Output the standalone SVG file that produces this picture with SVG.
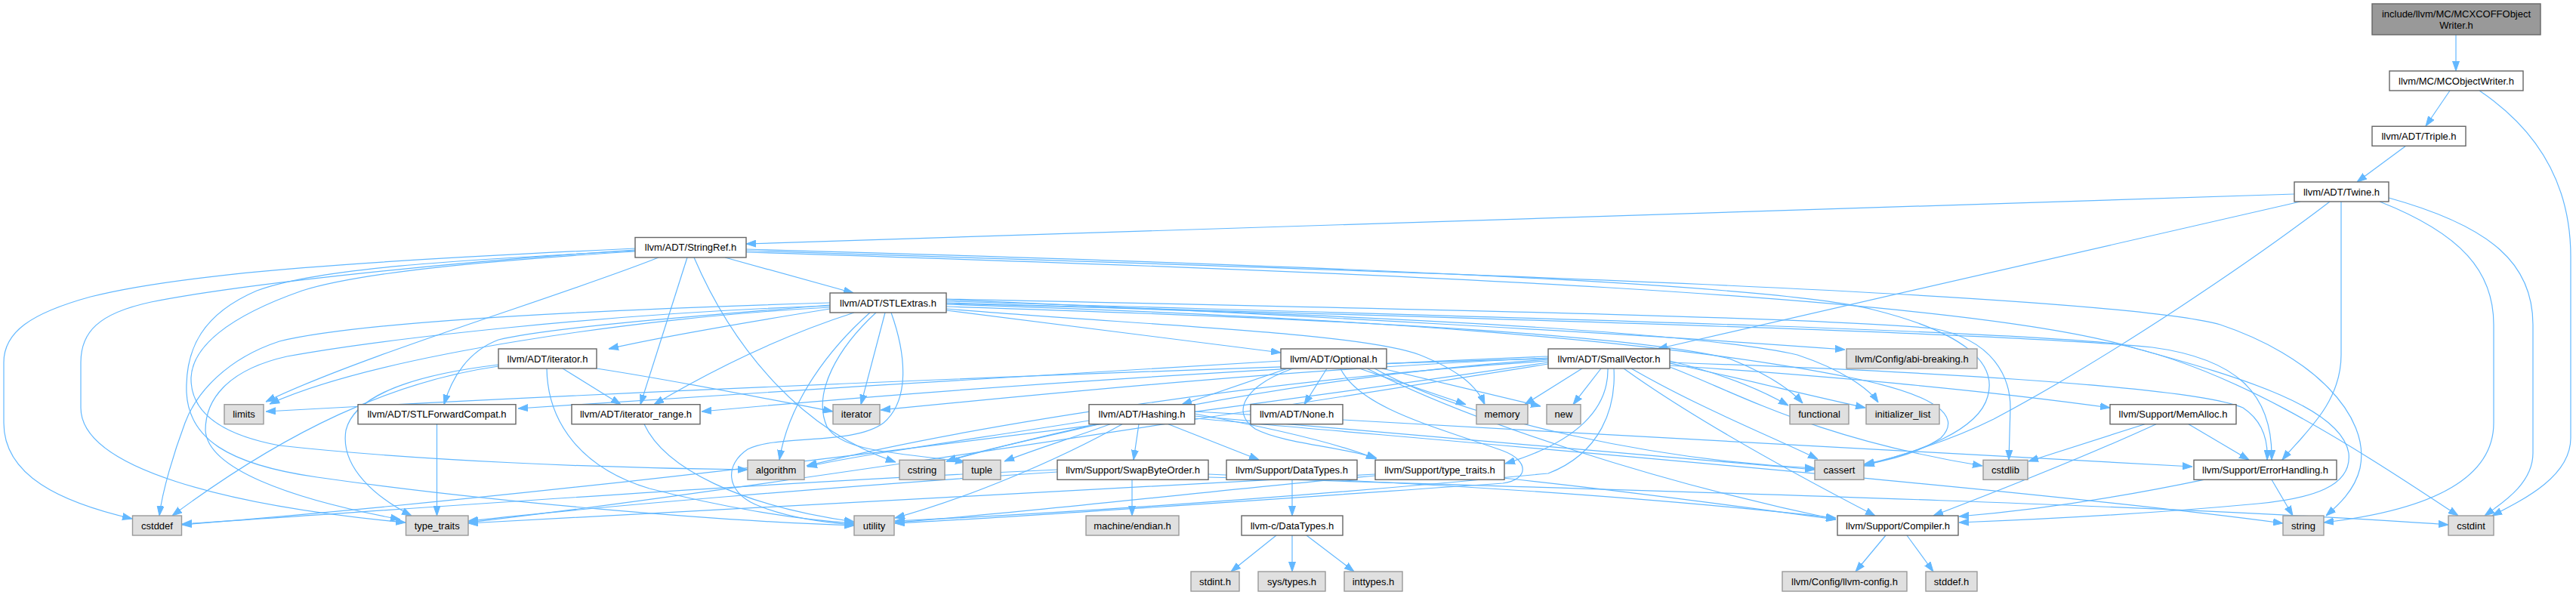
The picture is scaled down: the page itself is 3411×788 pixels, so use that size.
<svg xmlns="http://www.w3.org/2000/svg" width="3411" height="788" viewBox="0 0 3411 788">
<style>
.e{fill:none;stroke:#63b8ff;stroke-width:1.2;marker-end:url(#ah)}
.w{fill:#ffffff;stroke:#666666;stroke-width:1.4}
.g{fill:#e0e0e0;stroke:#999999;stroke-width:1.4}
.d{fill:#999999;stroke:#666666;stroke-width:1.4}
text{font-family:"Liberation Sans",Arial,sans-serif;font-size:13px;fill:#000000;text-anchor:middle}
</style>
<defs>
<marker id="ah" viewBox="0 0 13 10" refX="13" refY="5" markerWidth="13" markerHeight="10" orient="auto" markerUnits="userSpaceOnUse"><path d="M0,0.5 L13,5 L0,9.5 z" fill="#63b8ff" stroke="#63b8ff" stroke-width="1"/></marker>
</defs>
<rect x="0" y="0" width="3411" height="788" fill="#ffffff"/>
<g id="edges">
<path class="e" d="M3252,46 L3252,94"/>
<path class="e" d="M3244,120 L3212,167"/>
<path class="e" d="M3283,120 C3365,175 3404,250 3404,340 L3404,580 C3404,630 3345,660 3300,683"/>
<path class="e" d="M3186,193 L3121,241"/>
<path class="e" d="M3038,257 L988,323"/>
<path class="e" d="M3046,267 L2195,462"/>
<path class="e" d="M3100,267 L3100,470 C3100,535 3050,575 3022,609"/>
<path class="e" d="M3085,267 C2990,340 2800,470 2640,555 C2580,585 2510,605 2468,617"/>
<path class="e" d="M3151,267 C3260,310 3302,360 3302,430 L3302,560 C3302,650 3180,680 3077,692"/>
<path class="e" d="M3163,262 C3300,300 3354,350 3354,430 L3354,600 C3354,640 3315,665 3290,683"/>
<path class="e" d="M960,341 L1130,388"/>
<path class="e" d="M910,341 L848,535.7"/>
<path class="e" d="M872,341 C750,390 480,470 352,532"/>
<path class="e" d="M919,341 C970,460 1060,570 1186,612"/>
<path class="e" d="M841,329 C500,345 250,360 120,393 C40,415 5,440 5,480 L5,560 C5,630 80,665 175,687"/>
<path class="e" d="M841,331 C550,350 300,380 200,400 C130,415 107,440 107,480 L107,540 C107,620 300,670 537,692"/>
<path class="e" d="M841,332 C600,345 420,355 340,385 C270,415 245,460 247,520 C250,580 300,615 420,632 C650,665 950,690 1131,696"/>
<path class="e" d="M841,333 C650,345 480,360 400,385 C300,420 255,460 253,500 C252,545 290,575 370,590 C550,610 800,620 990,622"/>
<path class="e" d="M988,330 C1700,350 2350,375 2480,410 C2600,440 2645,480 2632,525 C2620,570 2540,600 2468,615"/>
<path class="e" d="M988,332 C1900,360 2800,390 2940,430 C3060,470 3140,550 3125,620 C3118,650 3095,670 3080,683"/>
<path class="e" d="M988,334 C1800,360 2600,390 2830,462 C2970,500 3100,540 3110,600 C3115,645 3060,660 2990,667 C2850,680 2700,688 2594,692"/>
<path class="e" d="M1253,411 L1696,467"/>
<path class="e" d="M1099,404 C900,420 720,435 660,450 C620,465 598,500 588,535.7"/>
<path class="e" d="M1099,409 C1000,425 880,445 806,462"/>
<path class="e" d="M1131,414 C1050,440 960,480 866,535.7"/>
<path class="e" d="M1253,397 C1700,415 2200,445 2443,463"/>
<path class="e" d="M1253,401 C1900,420 2650,440 2850,460 C2960,475 3010,520 3008,609"/>
<path class="e" d="M1152,414 C1100,460 1045,530 1032,609"/>
<path class="e" d="M1253,403 C1800,420 2200,450 2450,500 C2560,522 2600,550 2570,580 C2540,600 2500,610 2469,615"/>
<path class="e" d="M1099,401 C800,410 480,425 370,452 C300,475 260,520 245,560 C230,600 215,650 211,683"/>
<path class="e" d="M1253,399 C1900,418 2600,435 2800,455 C2950,485 3100,580 3255,683"/>
<path class="e" d="M1253,396 C1900,410 2400,420 2560,435 C2640,450 2662,500 2662,540 L2660,609"/>
<path class="e" d="M1253,406 C1700,420 2150,440 2290,475 C2340,495 2370,515 2387,534"/>
<path class="e" d="M1253,402 C1800,415 2250,440 2380,470 C2440,490 2475,515 2487,533"/>
<path class="e" d="M1172,414 L1140,535.7"/>
<path class="e" d="M1099,407 C850,420 500,470 357,535"/>
<path class="e" d="M1253,409 C1500,430 1800,440 1880,470 C1930,490 1955,510 1966,535.7"/>
<path class="e" d="M1160,414 C1110,460 1075,520 1095,565 C1115,600 1200,600 1278,612"/>
<path class="e" d="M1099,405 C800,415 500,450 380,472 C300,490 272,530 272,570 C275,620 380,660 530,688"/>
<path class="e" d="M1180,414 C1200,470 1205,530 1170,560 C1130,590 1030,575 990,595 C960,615 960,650 1000,668 C1040,685 1090,692 1131,695"/>
<path class="e" d="M1705,488 L1565,535.7"/>
<path class="e" d="M1757,488 L1727,535.7"/>
<path class="e" d="M1696,478 C1400,495 1000,520 686,541"/>
<path class="e" d="M1810,488 C1950,560 2200,640 2431,688"/>
<path class="e" d="M1712,488 C1650,510 1628,545 1662,568 C1700,588 1780,592 1823,607"/>
<path class="e" d="M1820,488 C1950,560 2200,610 2403,620"/>
<path class="e" d="M1800,488 L1941,535.7"/>
<path class="e" d="M1830,488 L2040,538"/>
<path class="e" d="M1775,488 C1800,540 1900,565 1990,597 C2025,610 2025,635 1990,640 C1700,660 1350,685 1185,693"/>
<path class="e" d="M2050,472 C1600,490 1200,520 929,545"/>
<path class="e" d="M2150,488 C2250,560 2400,640 2483,683"/>
<path class="e" d="M2211,480 C2500,490 2900,510 2970,540 C3000,560 3003,590 3002,609"/>
<path class="e" d="M2211,484 C2450,500 2650,520 2794,540"/>
<path class="e" d="M2129,488 C2130,540 2090,585 1993,614"/>
<path class="e" d="M2050,478 C1700,500 1300,560 1068,617"/>
<path class="e" d="M2160,488 C2250,540 2350,580 2407,608"/>
<path class="e" d="M2050,480 C1500,560 800,650 241,695"/>
<path class="e" d="M2211,486 C2300,520 2400,580 2625,617"/>
<path class="e" d="M2050,476 C1700,500 1400,570 1253,611"/>
<path class="e" d="M2211,478 C2280,495 2330,515 2368,537"/>
<path class="e" d="M2211,481 C2300,500 2400,525 2470,540"/>
<path class="e" d="M2050,474 C1700,490 1400,520 1166,543"/>
<path class="e" d="M2050,475 C1500,490 800,520 352,545"/>
<path class="e" d="M2095,488 L2019,535.7"/>
<path class="e" d="M2120,488 L2083,535.7"/>
<path class="e" d="M2050,482 C1500,570 900,660 620,692"/>
<path class="e" d="M2137,488 C2140,540 2120,600 2050,627 C1700,660 1400,680 1185,690"/>
<path class="e" d="M1547,561.7 L1667,609"/>
<path class="e" d="M1582,545 C2000,570 2600,600 2903,618"/>
<path class="e" d="M1508,561.7 L1501,609"/>
<path class="e" d="M1582,548 C1700,570 1780,590 1822,608"/>
<path class="e" d="M1442,557 C1300,580 1150,600 1069,618"/>
<path class="e" d="M1582,551 C1900,580 2200,605 2403,622"/>
<path class="e" d="M1455,561.7 C1380,580 1300,595 1253,611"/>
<path class="e" d="M1582,554 C2100,600 2700,650 3023,693"/>
<path class="e" d="M1470,561.7 C1420,580 1370,595 1330,611"/>
<path class="e" d="M1486,561.7 C1400,610 1280,660 1185,686"/>
<path class="e" d="M1600,628 C1900,640 2200,660 2431,686"/>
<path class="e" d="M1400,622 C1000,640 600,670 241,694"/>
<path class="e" d="M1600,632 C2200,650 2900,670 3242,695"/>
<path class="e" d="M1400,625 C1100,645 800,670 620,690"/>
<path class="e" d="M1499,635.3 L1499,683"/>
<path class="e" d="M1711,635.3 L1711,683"/>
<path class="e" d="M1690,709 L1630,757"/>
<path class="e" d="M1711,709 L1711,757"/>
<path class="e" d="M1730,709 L1793,757"/>
<path class="e" d="M1990,633 C2150,650 2300,670 2431,688"/>
<path class="e" d="M1821,628 C1400,650 900,680 620,693"/>
<path class="e" d="M1821,630 C1600,650 1350,680 1185,692"/>
<path class="e" d="M2855,561.7 C2750,610 2620,660 2560,683"/>
<path class="e" d="M2898,561.7 L2978,609"/>
<path class="e" d="M2840,561.7 L2686,611"/>
<path class="e" d="M2918,635.3 C2800,660 2700,675 2594,684"/>
<path class="e" d="M3008,635.3 L3036,683"/>
<path class="e" d="M2497,709 L2457,757"/>
<path class="e" d="M2525,709 L2560,757"/>
<path class="e" d="M745,488 L822,535.7"/>
<path class="e" d="M660,485 C520,505 380,570 228,683"/>
<path class="e" d="M790,488 C900,505 1000,525 1103,545"/>
<path class="e" d="M660,483 C560,495 470,520 458,570 C450,620 500,660 545,683"/>
<path class="e" d="M724,488 C725,560 770,620 860,647 C950,670 1050,688 1131,693"/>
<path class="e" d="M853,561.7 C880,620 980,670 1131,691"/>
<path class="e" d="M578.5,561.7 L578.5,683"/>
</g>
<g id="n_top"><rect class="d" x="3141" y="5" width="223" height="41"/><text x="3252.5" y="22.5">include/llvm/MC/MCXCOFFObject</text><text x="3252.5" y="37.5">Writer.h</text></g>
<g id="n_mcow"><rect class="w" x="3164" y="94" width="177" height="26"/><text x="3252.5" y="111.7">llvm/MC/MCObjectWriter.h</text></g>
<g id="n_triple"><rect class="w" x="3141" y="167.3" width="124" height="26"/><text x="3203" y="185">llvm/ADT/Triple.h</text></g>
<g id="n_twine"><rect class="w" x="3038" y="241" width="125" height="26"/><text x="3100.5" y="258.7">llvm/ADT/Twine.h</text></g>
<g id="n_stringref"><rect class="w" x="841" y="314.5" width="147" height="26.5"/><text x="914.5" y="332.4">llvm/ADT/StringRef.h</text></g>
<g id="n_stlextras"><rect class="w" x="1099" y="388" width="154" height="26"/><text x="1176" y="405.7">llvm/ADT/STLExtras.h</text></g>
<g id="n_iteratorh"><rect class="w" x="660" y="462" width="130" height="26"/><text x="725" y="479.7">llvm/ADT/iterator.h</text></g>
<g id="n_optional"><rect class="w" x="1696" y="462" width="140" height="26"/><text x="1766" y="479.7">llvm/ADT/Optional.h</text></g>
<g id="n_smallvector"><rect class="w" x="2050" y="462" width="161" height="26"/><text x="2130.5" y="479.7">llvm/ADT/SmallVector.h</text></g>
<g id="n_abi"><rect class="g" x="2445" y="462" width="173" height="26"/><text x="2531.5" y="479.7">llvm/Config/abi-breaking.h</text></g>
<g id="n_limits"><rect class="g" x="297" y="535.7" width="52" height="26"/><text x="323" y="553.4">limits</text></g>
<g id="n_stlfc"><rect class="w" x="474" y="535.7" width="209" height="26"/><text x="578.5" y="553.4">llvm/ADT/STLForwardCompat.h</text></g>
<g id="n_itrange"><rect class="w" x="757" y="535.7" width="170" height="26"/><text x="842" y="553.4">llvm/ADT/iterator_range.h</text></g>
<g id="n_iterator"><rect class="g" x="1103" y="535.7" width="62" height="26"/><text x="1134" y="553.4">iterator</text></g>
<g id="n_hashing"><rect class="w" x="1442" y="535.7" width="140" height="26"/><text x="1512" y="553.4">llvm/ADT/Hashing.h</text></g>
<g id="n_none"><rect class="w" x="1656" y="535.7" width="122" height="26"/><text x="1717" y="553.4">llvm/ADT/None.h</text></g>
<g id="n_memory"><rect class="g" x="1955" y="535.7" width="68" height="26"/><text x="1989" y="553.4">memory</text></g>
<g id="n_new"><rect class="g" x="2048" y="535.7" width="45" height="26"/><text x="2070.5" y="553.4">new</text></g>
<g id="n_functional"><rect class="g" x="2370" y="535.7" width="78" height="26"/><text x="2409" y="553.4">functional</text></g>
<g id="n_initlist"><rect class="g" x="2471" y="535.7" width="97" height="26"/><text x="2519.5" y="553.4">initializer_list</text></g>
<g id="n_memalloc"><rect class="w" x="2794" y="535.7" width="167" height="26"/><text x="2877.5" y="553.4">llvm/Support/MemAlloc.h</text></g>
<g id="n_algorithm"><rect class="g" x="990" y="609.3" width="75" height="26"/><text x="1027.5" y="627">algorithm</text></g>
<g id="n_cstring"><rect class="g" x="1191" y="609.3" width="60" height="26"/><text x="1221" y="627">cstring</text></g>
<g id="n_tuple"><rect class="g" x="1275" y="609.3" width="50" height="26"/><text x="1300" y="627">tuple</text></g>
<g id="n_swap"><rect class="w" x="1400" y="609.3" width="200" height="26"/><text x="1500" y="627">llvm/Support/SwapByteOrder.h</text></g>
<g id="n_sdatatypes"><rect class="w" x="1624" y="609.3" width="173" height="26"/><text x="1710.5" y="627">llvm/Support/DataTypes.h</text></g>
<g id="n_stypetraits"><rect class="w" x="1821" y="609.3" width="171" height="26"/><text x="1906.5" y="627">llvm/Support/type_traits.h</text></g>
<g id="n_cassert"><rect class="g" x="2403" y="609.3" width="65" height="26"/><text x="2435.5" y="627">cassert</text></g>
<g id="n_cstdlib"><rect class="g" x="2626" y="609.3" width="59" height="26"/><text x="2655.5" y="627">cstdlib</text></g>
<g id="n_errh"><rect class="w" x="2905" y="609.3" width="189" height="26"/><text x="2999.5" y="627">llvm/Support/ErrorHandling.h</text></g>
<g id="n_cstddef"><rect class="g" x="175.5" y="683" width="65" height="26"/><text x="208" y="700.7">cstddef</text></g>
<g id="n_typetraits"><rect class="g" x="537.5" y="683" width="82.5" height="26"/><text x="578.7" y="700.7">type_traits</text></g>
<g id="n_utility"><rect class="g" x="1131" y="683" width="53" height="26"/><text x="1157.5" y="700.7">utility</text></g>
<g id="n_endian"><rect class="g" x="1438" y="683" width="123" height="26"/><text x="1499.5" y="700.7">machine/endian.h</text></g>
<g id="n_cdatatypes"><rect class="w" x="1644" y="683" width="134" height="26"/><text x="1711" y="700.7">llvm-c/DataTypes.h</text></g>
<g id="n_compiler"><rect class="w" x="2433" y="683" width="160" height="26"/><text x="2513" y="700.7">llvm/Support/Compiler.h</text></g>
<g id="n_string"><rect class="g" x="3023" y="683" width="54" height="26"/><text x="3050" y="700.7">string</text></g>
<g id="n_cstdint"><rect class="g" x="3242" y="683" width="60" height="26"/><text x="3272" y="700.7">cstdint</text></g>
<g id="n_stdint"><rect class="g" x="1577" y="757" width="64" height="26"/><text x="1609" y="774.7">stdint.h</text></g>
<g id="n_systypes"><rect class="g" x="1666" y="757" width="89" height="26"/><text x="1710.5" y="774.7">sys/types.h</text></g>
<g id="n_inttypes"><rect class="g" x="1780" y="757" width="77" height="26"/><text x="1818.5" y="774.7">inttypes.h</text></g>
<g id="n_llvmconfig"><rect class="g" x="2360" y="757" width="165" height="26"/><text x="2442.5" y="774.7">llvm/Config/llvm-config.h</text></g>
<g id="n_stddef"><rect class="g" x="2550" y="757" width="68" height="26"/><text x="2584" y="774.7">stddef.h</text></g>
</svg>
